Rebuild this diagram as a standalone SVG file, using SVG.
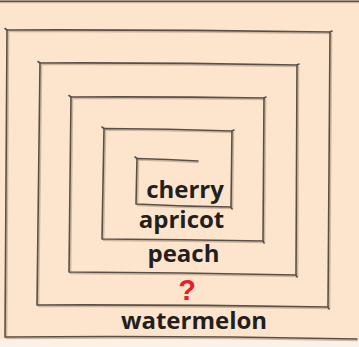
<svg xmlns="http://www.w3.org/2000/svg" width="359" height="347" viewBox="0 0 359 347">
<style>
.bg{fill:#fde5cd}
.ln{fill:none;stroke:#5a4f46;stroke-width:1.6;stroke-linecap:round;stroke-linejoin:round}
.sh{fill:none;stroke:#b9a48f;stroke-width:1.6;stroke-linecap:round;stroke-linejoin:round;opacity:0.7}
.t{font-family:"Open Sans","Noto Sans",sans-serif;font-weight:700;font-size:24px;fill:#231f20;text-anchor:middle}
.q{font-family:"Liberation Sans",Arial,sans-serif;font-weight:700;font-size:29px;fill:#ed1c24;text-anchor:middle}
</style>
<rect class="bg" x="0" y="0" width="359" height="347"/>
<rect x="0" y="339" width="359" height="8" fill="#fbf1e7"/>
<g id="connectors">
<path class="sh" d="M0,2.5 L359,2.5"/>
<path class="ln" d="M0,1.2 L359,1.2"/>
<path class="sh" d="M198,162.5 Q167,160.5 138.5,160 L137.5,205.5 Q184,208 232.5,208.5 L233.5,132.5 Q168,130 105.5,130 L103.5,240.5 Q183,241 264.5,242.5 L265.5,99.5 Q168,98 72.5,98.5 L70.5,273.5 Q183,274 297.5,276.5 L298.5,66.5 Q169,64 41.5,64.5 L38.5,306.5 Q183,306 329.5,308.5 L331.5,33.5 Q168,31 8.5,31.5 L6.5,338.5 Q180,337 357,340.5"/>
<path class="ln" d="M198,161 Q167,159 137,158.5 L136,204 Q184,206.5 231,207 L232,131 Q168,128.5 104,128.5 L102,239 Q183,239.5 263,241 L264,98 Q168,96.5 71,97 L69,272 Q183,272.5 296,275 L297,65 Q169,62.5 40,63 L37,305 Q183,304.5 328,307 L330,32 Q168,29.5 7,30 L5,337 Q180,335.5 357,339"/>
<path class="ln" d="M137,158.5 L135,157 M104,128.5 L102,127 M71,97 L69,95.5 M40,63 L38,61.5 M7,30 L5,28.5 M231,207 L232,209 M263,241 L264,243 M296,275 L297,277 M328,307 L329,309 M232,131 L234,130 M264,98 L266,97 M297,65 L299,64 M330,32 L332,31"/>
</g>
<g id="cherry"><text class="t" x="185" y="198">cherry</text></g>
<g id="apricot"><text class="t" x="181.5" y="228">apricot</text></g>
<g id="peach"><text class="t" x="183.5" y="262">peach</text></g>
<g id="unknown"><text class="q" x="187" y="300">?</text></g>
<g id="watermelon"><text class="t" x="194" y="329">watermelon</text></g>
</svg>
